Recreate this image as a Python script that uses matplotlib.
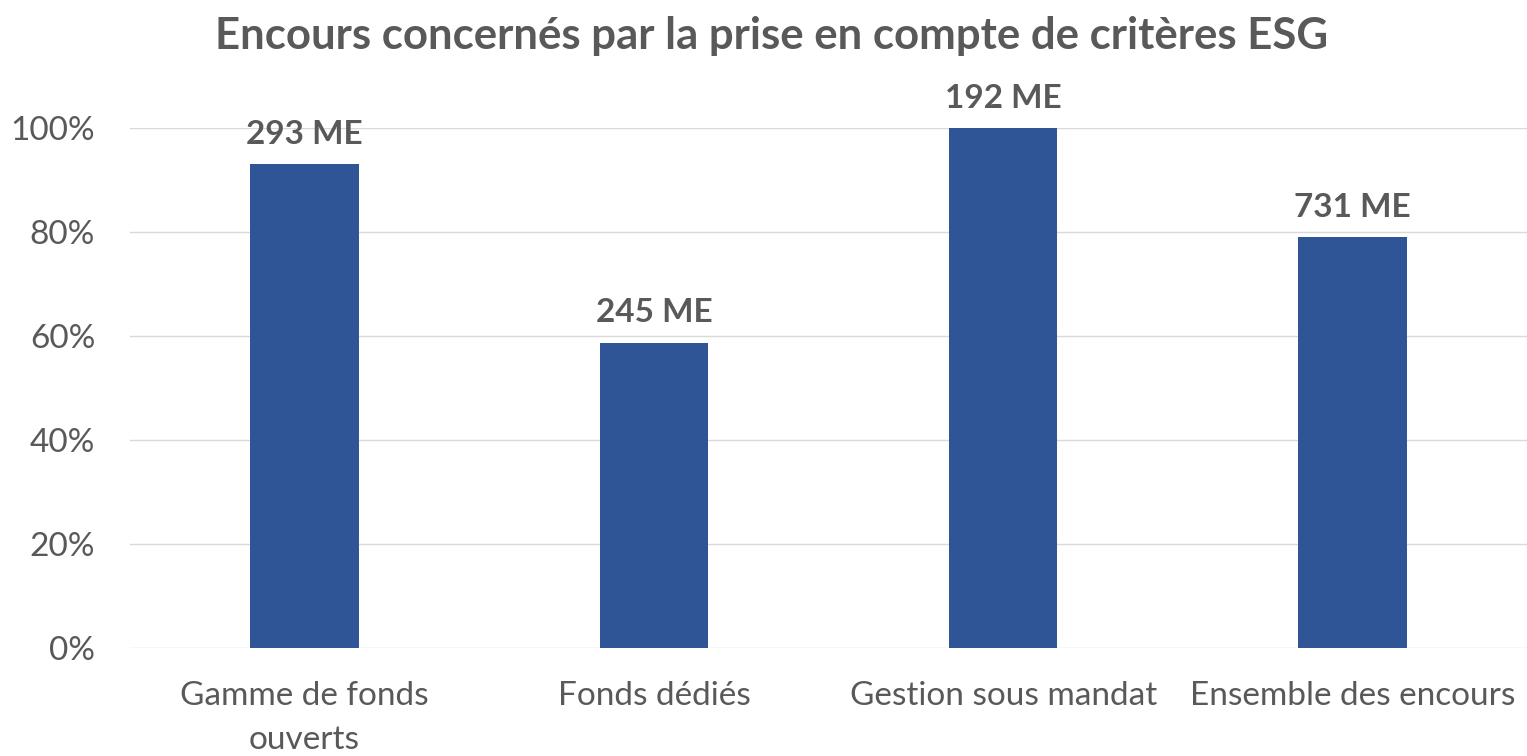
import numpy as np
import matplotlib
matplotlib.use("Agg")
import matplotlib.pyplot as plt
from matplotlib.ticker import PercentFormatter

categories = ["Gamme de fonds\nouverts", "Fonds dédiés", "Gestion sous mandat", "Ensemble des encours"]
shares = [0.93, 0.587, 1.0, 0.79]
labels = ["293 ME", "245 ME", "192 ME", "731 ME"]

plt.rcParams['font.family'] = ['Lato', 'DejaVu Sans']
grey = "#595959"

fig = plt.figure(figsize=(15.27, 7.56), dpi=100)
ax = fig.add_axes([0.0851, 0.1429, 0.915, 0.6878])

x = np.arange(len(categories))
ax.bar(x, shares, width=0.31, color="#2F5597", zorder=3)
for xi, v, lab in zip(x, shares, labels):
    ax.annotate(lab, (xi, v), xytext=(0, 11), textcoords="offset points",
                ha="center", va="bottom", fontsize=24, fontweight="bold",
                color=grey, annotation_clip=False)

ax.set_xlim(-0.5, 3.5)
ax.set_ylim(0, 1)
ax.set_yticks(np.arange(0, 1.01, 0.2))
ax.yaxis.set_major_formatter(PercentFormatter(1.0, decimals=0))
ax.set_xticks(x)
ax.set_xticklabels(categories, linespacing=1.55)
ax.grid(axis="y", color="#D9D9D9", lw=1, zorder=0)
for s in ax.spines.values():
    s.set_visible(False)
ax.tick_params(length=0, labelsize=24, colors=grey)
ax.tick_params(axis="x", pad=24)
ax.tick_params(axis="y", pad=25)

fig.text(0.505, 0.952, "Encours concernés par la prise en compte de critères ESG",
         ha="center", va="center", fontsize=31.5, fontweight="bold", color=grey)

fig.savefig("out.png", dpi=100)
